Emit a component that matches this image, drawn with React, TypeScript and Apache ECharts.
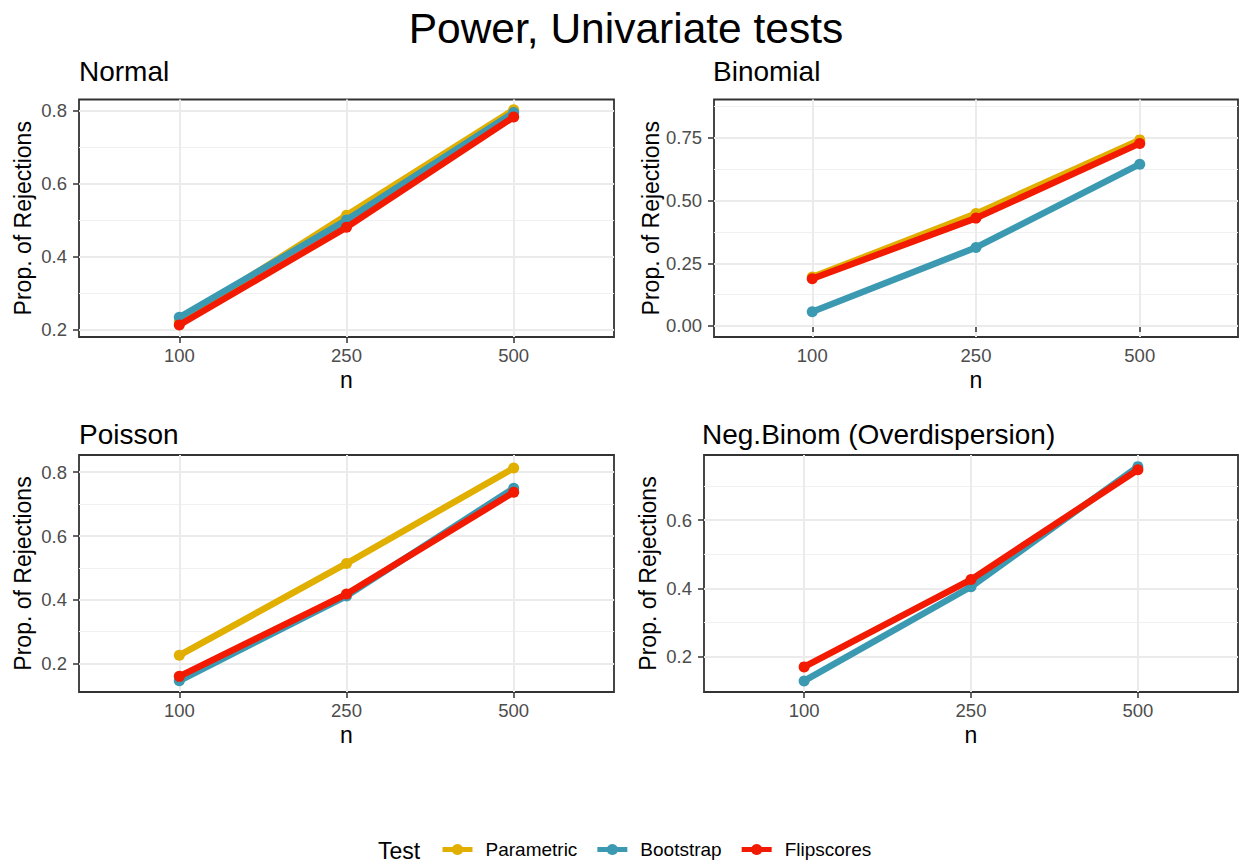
import React, { useEffect, useRef } from 'react';
import * as echarts from 'echarts';

// ---- data ----
const nLabels = ['100', '250', '500'];
const tests = ['Parametric', 'Bootstrap', 'Flipscores'];
const testColors = ['#E1AF00', '#3B9AB2', '#F21A00'];
const panelTitles = ['Normal', 'Binomial', 'Poisson', 'Neg.Binom (Overdispersion)'];

const normalParametric = [0.222, 0.513, 0.803];
const normalBootstrap = [0.233, 0.5, 0.795];
const normalFlipscores = [0.212, 0.48, 0.783];

const binomialParametric = [0.195, 0.448, 0.742];
const binomialBootstrap = [0.057, 0.313, 0.645];
const binomialFlipscores = [0.188, 0.43, 0.728];

const poissonParametric = [0.226, 0.514, 0.813];
const poissonBootstrap = [0.146, 0.412, 0.75];
const poissonFlipscores = [0.16, 0.418, 0.737];

const negbinBootstrap = [0.13, 0.405, 0.756];
const negbinFlipscores = [0.171, 0.426, 0.747];

const normalMajor = [0.2, 0.4, 0.6, 0.8];
const normalMinor = [0.3, 0.5, 0.7];
const binomialMajor = [0, 0.25, 0.5, 0.75];
const binomialMinor = [0.125, 0.375, 0.625, 0.875];
const poissonMajor = [0.2, 0.4, 0.6, 0.8];
const poissonMinor = [0.3, 0.5, 0.7];
const negbinMajor = [0.2, 0.4, 0.6];
const negbinMinor = [0.3, 0.5, 0.7];

const yRanges = [
  [0.179, 0.831],
  [-0.044, 0.903],
  [0.111, 0.854],
  [0.0976, 0.79],
];
const yDecimals = [1, 2, 1, 1];

const panelSeries = [
  [normalParametric, normalBootstrap, normalFlipscores],
  [binomialParametric, binomialBootstrap, binomialFlipscores],
  [poissonParametric, poissonBootstrap, poissonFlipscores],
  [null, negbinBootstrap, negbinFlipscores],
];
const majors = [normalMajor, binomialMajor, poissonMajor, negbinMajor];
const minors = [normalMinor, binomialMinor, poissonMinor, negbinMinor];

const FONT = '"Liberation Sans", Arial, Helvetica, sans-serif';

export default function App() {
  const ref = useRef<HTMLDivElement>(null);

  useEffect(() => {
    if (!ref.current) return;
    const chart = echarts.init(ref.current, null, { renderer: 'svg', width: 1239, height: 865 });

    const grids = [
      { left: 79, top: 99.5, width: 535, height: 237.5 },
      { left: 714, top: 99.5, width: 524, height: 237.5 },
      { left: 79, top: 455, width: 535, height: 237 },
      { left: 704, top: 455, width: 534, height: 237 },
    ];
    const titlePos = [
      { left: 79, top: 57.5 },
      { left: 713, top: 57.5 },
      { left: 79, top: 420.5 },
      { left: 702, top: 420.5 },
    ];

    const xAxes: any[] = [];
    const yAxes: any[] = [];
    const series: any[] = [];

    grids.forEach((_, i) => {
      xAxes.push({
        type: 'value',
        gridIndex: i,
        min: 0.4,
        max: 3.6,
        name: 'n',
        nameLocation: 'middle',
        nameGap: 31,
        nameTextStyle: { fontSize: 23, color: '#000', lineHeight: 23, fontFamily: FONT },
        axisLine: { show: false },
        axisTick: {
          show: true,
          customValues: [1, 2, 3],
          length: 6,
          lineStyle: { color: '#333333', width: 1.5 },
        },
        axisLabel: {
          customValues: [1, 2, 3],
          formatter: (v: number) => nLabels[Math.round(v) - 1],
          fontSize: 18.5,
          lineHeight: 18.5,
          color: '#4D4D4D',
          margin: 9,
          fontFamily: FONT,
        },
        splitLine: { show: true, lineStyle: { color: '#EBEBEB', width: 2 } },
      });
      const dec = yDecimals[i];
      yAxes.push({
        type: 'value',
        gridIndex: i,
        min: yRanges[i][0],
        max: yRanges[i][1],
        name: 'Prop. of Rejections',
        nameLocation: 'middle',
        nameGap: 45,
        nameRotate: 90,
        nameTextStyle: { fontSize: 23, color: '#000', lineHeight: 23, fontFamily: FONT },
        axisLine: { show: false },
        axisTick: {
          show: true,
          customValues: majors[i],
          length: 6,
          lineStyle: { color: '#333333', width: 1.5 },
        },
        axisLabel: {
          customValues: majors[i],
          formatter: (v: number) => v.toFixed(dec),
          fontSize: 18.5,
          color: '#4D4D4D',
          margin: 12,
          fontFamily: FONT,
        },
        splitLine: { show: true, lineStyle: { color: '#EBEBEB', width: 2 } },
        z: 1,
      });
      yAxes.push({
        type: 'value',
        gridIndex: i,
        position: 'left',
        min: yRanges[i][0],
        max: yRanges[i][1],
        axisLine: { show: false },
        axisTick: { show: false, customValues: minors[i] },
        axisLabel: { show: false, customValues: minors[i] },
        splitLine: { show: true, lineStyle: { color: '#F0F0F0', width: 1 } },
        z: 0,
      });

      panelSeries[i].forEach((vals, t) => {
        if (!vals) return;
        series.push({
          type: 'line',
          name: tests[t],
          xAxisIndex: i,
          yAxisIndex: 2 * i,
          data: vals.map((v, j) => [j + 1, v]),
          symbol: 'circle',
          symbolSize: 11,
          showSymbol: true,
          lineStyle: { color: testColors[t], width: 6.5 },
          itemStyle: { color: testColors[t] },
          z: 3 + t,
        });
      });
    });

    const option: any = {
      animation: false,
      backgroundColor: '#ffffff',
      textStyle: { fontFamily: FONT },
      title: [
        {
          text: 'Power, Univariate tests',
          left: 626,
          top: 7,
          textAlign: 'center',
          padding: 0,
          textStyle: { fontSize: 42.5, lineHeight: 42.5, fontWeight: 'normal', color: '#000', fontFamily: FONT },
        },
        ...panelTitles.map((t, i) => ({
          text: t,
          left: titlePos[i].left,
          top: titlePos[i].top,
          padding: 0,
          textStyle: { fontSize: 28, lineHeight: 28, fontWeight: 'normal', color: '#000', fontFamily: FONT },
        })),
      ],
      grid: grids.map((g) => ({
        ...g,
        show: true,
        borderColor: '#333333',
        borderWidth: 1.8,
        backgroundColor: 'transparent',
        containLabel: false,
        outerBoundsMode: 'none',
      })),
      xAxis: xAxes,
      yAxis: yAxes,
      legend: {
        data: tests,
        left: 440,
        top: 840,
        itemWidth: 30,
        itemHeight: 14,
        itemGap: 17.5,
        padding: 0,
        lineStyle: { width: 5 },
        textStyle: { fontSize: 19, color: '#000', padding: [0, 0, 0, 8], fontFamily: FONT },
      },
      graphic: [
        {
          type: 'text',
          x: 378,
          y: 851,
          style: {
            text: 'Test',
            fontSize: 23,
            fill: '#000',
            fontFamily: FONT,
            textVerticalAlign: 'middle',
          },
        },
      ],
      series,
    };

    chart.setOption(option);
    return () => chart.dispose();
  }, []);

  return (
    <div
      ref={ref}
      style={{ position: 'fixed', left: 0, top: 0, width: 1239, height: 865, background: '#fff' }}
    />
  );
}
